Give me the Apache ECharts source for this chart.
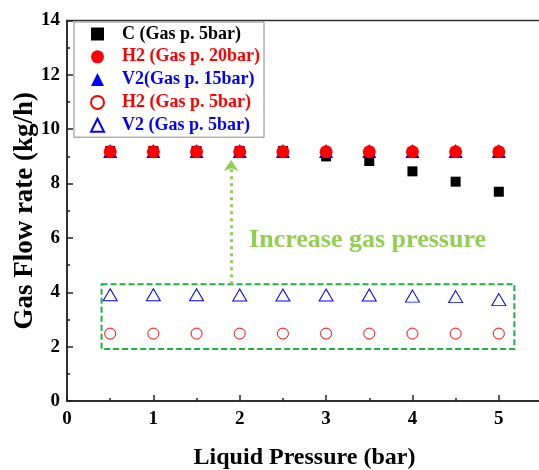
<!DOCTYPE html>
<html>
<head>
<meta charset="utf-8">
<script src="https://cdn.jsdelivr.net/npm/echarts@6/dist/echarts.min.js"></script>
<style>
  html, body { margin: 0; padding: 0; background: #fff; }
  #chart { width: 539px; height: 470px; }
</style>
</head>
<body>
<div id="chart"></div>
<script>
var liquidPressure = [0.5, 1, 1.5, 2, 2.5, 3, 3.5, 4, 4.5, 5];
var cGas5 = [9.2, 9.2, 9.2, 9.2, 9.2, 9.0, 8.83, 8.45, 8.07, 7.7];
var h2Gas20 = [9.17, 9.17, 9.17, 9.17, 9.17, 9.17, 9.17, 9.17, 9.17, 9.17];
var v2Gas15 = [9.2, 9.2, 9.2, 9.2, 9.2, 9.2, 9.2, 9.2, 9.2, 9.2];
var h2Gas5 = [2.48, 2.48, 2.48, 2.48, 2.48, 2.48, 2.48, 2.48, 2.48, 2.48];
var v2Gas5 = [3.91, 3.91, 3.91, 3.9, 3.9, 3.9, 3.9, 3.86, 3.84, 3.73];
var seriesNames = ['C (Gas p. 5bar)', 'H2 (Gas p. 20bar)', 'V2(Gas p. 15bar)', 'H2 (Gas p. 5bar)', 'V2 (Gas p. 5bar)'];
var seriesColors = ['#000000', '#ff0000', '#0000ff', '#ff0000', '#0000ff'];
var boxCorners = [[0.4, 4.3], [5.18, 1.91]];
var arrowEnds = [[1.9, 4.3], [1.9, 8.87]];
var noteText = 'Increase gas pressure';
var notePos = [3.48, 5.92];

var font = "'Liberation Serif', 'Times New Roman', serif";
var green = '#1fb043';
var lightGreen = '#92d050';

function pairs(ys) {
  return liquidPressure.map(function(x, i) { return [x, ys[i]]; });
}

var chart = echarts.init(document.getElementById('chart'), null, { renderer: 'canvas' });
chart.setOption({
  animation: false,
  backgroundColor: '#fff',
  grid: {
    left: 67, top: 20.5, width: 475, height: 380.5,
    outerBoundsMode: 'none', containLabel: false,
    show: true, borderColor: '#333', borderWidth: 1.5
  },
  legend: {
    orient: 'vertical',
    left: 74, top: 22,
    padding: [3, 4, 3, 16],
    itemWidth: 13, itemHeight: 13, itemGap: 4.8,
    backgroundColor: '#fff',
    borderColor: '#888', borderWidth: 1,
    textStyle: { fontFamily: font, fontWeight: 'bold', fontSize: 18, lineHeight: 18, padding: [0, 0, 0, 13] },
    data: seriesNames.map(function(n, i) {
      return { name: n, textStyle: { color: seriesColors[i] } };
    })
  },
  xAxis: {
    type: 'value', min: 0, max: 5.5, interval: 1,
    name: 'Liquid Pressure (bar)', nameLocation: 'middle', nameGap: 45, nameMoveOverlap: false,
    nameTextStyle: { fontFamily: font, fontWeight: 'bold', fontSize: 24, color: '#000' },
    axisLine: { onZero: false, lineStyle: { color: '#222', width: 1.5 } },
    axisTick: { inside: true, length: 6, lineStyle: { color: '#222', width: 1.5 } },
    minorTick: { show: true, splitNumber: 2, length: 3, lineStyle: { color: '#222', width: 1.5 } },
    axisLabel: { fontFamily: font, fontWeight: 'bold', fontSize: 19, color: '#000', margin: 9, showMaxLabel: false },
    splitLine: { show: false }
  },
  yAxis: {
    type: 'value', min: 0, max: 14, interval: 2,
    name: 'Gas Flow rate (kg/h)', nameLocation: 'middle', nameGap: 28, nameMoveOverlap: false,
    nameTextStyle: { fontFamily: font, fontWeight: 'bold', fontSize: 27, color: '#000' },
    axisLine: { show: true, onZero: false, lineStyle: { color: '#222', width: 1.5 } },
    axisTick: { show: true, inside: true, length: 6, lineStyle: { color: '#222', width: 1.5 } },
    minorTick: { show: true, splitNumber: 2, length: 3, lineStyle: { color: '#222', width: 1.5 } },
    axisLabel: { fontFamily: font, fontWeight: 'bold', fontSize: 19, color: '#000', margin: 7 },
    splitLine: { show: false }
  },
  series: [
    {
      name: seriesNames[0], type: 'scatter', symbol: 'rect', symbolSize: 10,
      itemStyle: { color: seriesColors[0], opacity: 1 },
      data: pairs(cGas5)
    },
    {
      name: seriesNames[2], type: 'scatter', symbol: 'triangle', symbolSize: 14,
      itemStyle: { color: seriesColors[2], opacity: 1 },
      data: pairs(v2Gas15)
    },
    {
      name: seriesNames[1], type: 'scatter', symbol: 'circle', symbolSize: 13,
      itemStyle: { color: seriesColors[1], opacity: 1 },
      data: pairs(h2Gas20)
    },
    {
      name: seriesNames[3], type: 'scatter', symbol: 'circle', symbolSize: 11,
      itemStyle: { color: '#fff', borderColor: seriesColors[3], borderWidth: 1, opacity: 1 },
      data: pairs(h2Gas5),
      markArea: {
        silent: true,
        itemStyle: { color: 'rgba(0,0,0,0)', borderColor: green, borderWidth: 2, borderType: [6, 3] },
        data: [[{ coord: boxCorners[0] }, { coord: boxCorners[1] }]]
      },
      markLine: {
        silent: true,
        symbol: ['none', 'arrow'],
        symbolSize: 11,
        label: { show: false },
        lineStyle: { color: lightGreen, width: 3, type: [3, 4] },
        data: [[{ coord: arrowEnds[0] }, { coord: arrowEnds[1] }]]
      },
      markPoint: {
        silent: true,
        symbol: 'circle', symbolSize: 0,
        label: {
          show: true, position: 'inside', formatter: noteText,
          fontFamily: font, fontWeight: 'bold', fontSize: 26, color: lightGreen
        },
        data: [{ coord: notePos }]
      }
    },
    {
      name: seriesNames[4], type: 'scatter', symbol: 'triangle', symbolSize: [14, 12],
      itemStyle: { color: '#fff', borderColor: seriesColors[4], borderWidth: 1, opacity: 1 },
      data: pairs(v2Gas5)
    }
  ]
});
window.addEventListener('resize', function() { chart.resize(); });
</script>
</body>
</html>
